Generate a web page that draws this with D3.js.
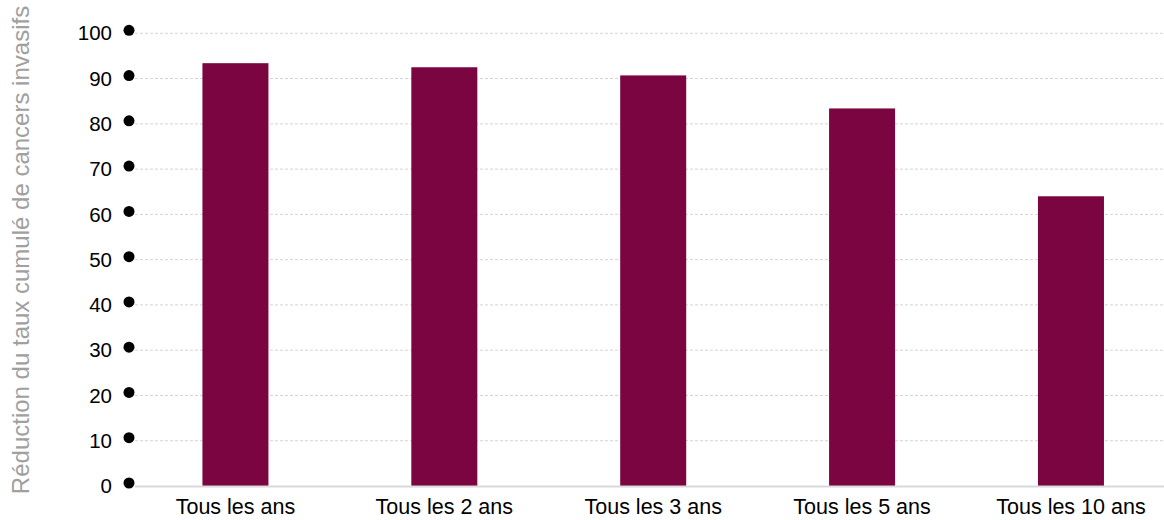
<!DOCTYPE html>
<html>
<head>
<meta charset="utf-8">
<script src="https://cdn.jsdelivr.net/npm/d3@7"></script>
<style>
  html, body { margin: 0; padding: 0; background: #fff; }
  svg { display: block; font-family: "Liberation Sans", Arial, Helvetica, sans-serif; }
</style>
</head>
<body>
<svg id="chart" width="1164" height="520"></svg>
<script>
// Screening interval categories and the cumulative reduction of invasive cancers (%)
const categories = ["Tous les ans", "Tous les 2 ans", "Tous les 3 ans", "Tous les 5 ans", "Tous les 10 ans"];
const reduction = [93.4, 92.5, 90.7, 83.4, 64.0];
const yTicks = [0, 10, 20, 30, 40, 50, 60, 70, 80, 90, 100];
const yTitle = "Réduction du taux cumulé de cancers invasifs";

const svg = d3.select("#chart");
const plotLeft = 135, plotRight = 1164;
const yTop = 33.3, yBottom = 486;

const x = d3.scaleBand()
  .domain(categories)
  .range([131, 1175.4])
  .paddingInner(0.684)
  .paddingOuter(0.342);

const y = d3.scaleLinear().domain([0, 100]).range([yBottom, yTop]);

// Dashed horizontal gridlines
svg.append("g")
  .selectAll("line")
  .data(yTicks.filter(d => d > 0))
  .join("line")
  .attr("x1", plotLeft)
  .attr("x2", plotRight)
  .attr("y1", d => y(d))
  .attr("y2", d => y(d))
  .attr("stroke", "#d4d4d4")
  .attr("stroke-width", 1)
  .attr("stroke-dasharray", "3,2");

// Bars
svg.append("g")
  .selectAll("rect")
  .data(categories)
  .join("rect")
  .attr("x", d => x(d))
  .attr("width", x.bandwidth())
  .attr("y", (d, i) => y(reduction[i]))
  .attr("height", (d, i) => y(0) - y(reduction[i]))
  .attr("fill", "#7b0541");

// Baseline
svg.append("line")
  .attr("x1", plotLeft)
  .attr("x2", plotRight)
  .attr("y1", y(0) + 0.5)
  .attr("y2", y(0) + 0.5)
  .attr("stroke", "#d9d9d9")
  .attr("stroke-width", 2);

// Y axis: tick labels with round markers
const yAxis = svg.append("g");
yAxis.selectAll("text")
  .data(yTicks)
  .join("text")
  .attr("x", 112)
  .attr("y", d => y(d))
  .attr("dy", "0.35em")
  .attr("text-anchor", "end")
  .attr("font-size", 20.5)
  .attr("fill", "#000")
  .text(d => d);

yAxis.selectAll("circle")
  .data(yTicks)
  .join("circle")
  .attr("cx", 129)
  .attr("cy", d => y(d) - 3)
  .attr("r", 5.5)
  .attr("fill", "#000");

// X axis labels
svg.append("g")
  .selectAll("text")
  .data(categories)
  .join("text")
  .attr("x", d => x(d) + x.bandwidth() / 2)
  .attr("y", 514)
  .attr("text-anchor", "middle")
  .attr("font-size", 21.5)
  .attr("fill", "#000")
  .text(d => d);

// Y axis title
svg.append("text")
  .attr("transform", "translate(29,250) rotate(-90)")
  .attr("text-anchor", "middle")
  .attr("font-size", 24)
  .attr("fill", "#a0a0a0")
  .text(yTitle);
</script>
</body>
</html>
